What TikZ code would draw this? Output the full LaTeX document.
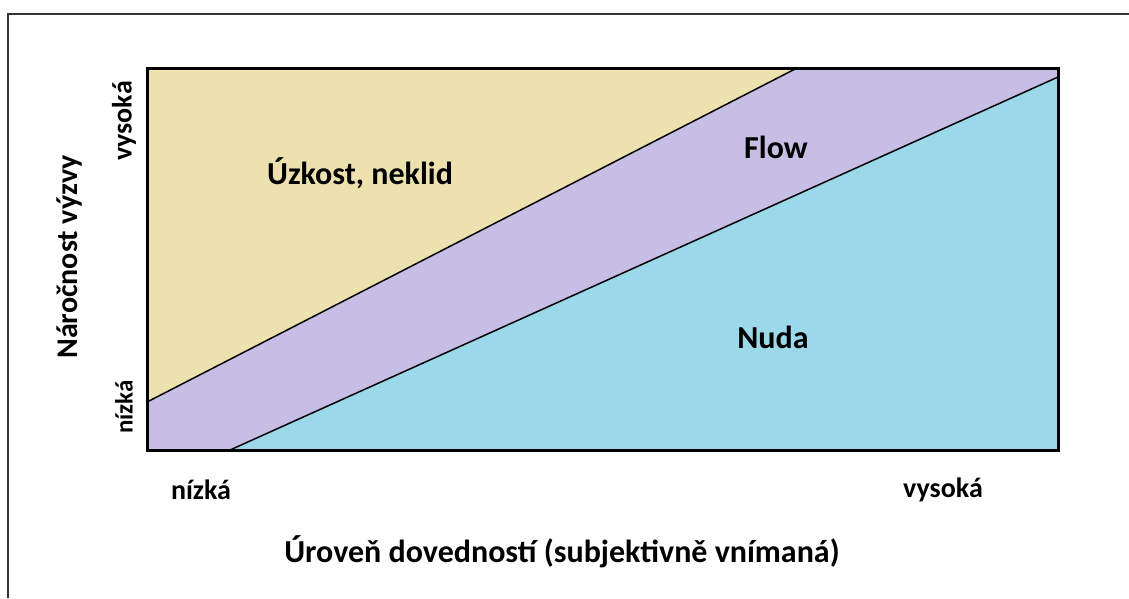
\documentclass[tikz,border=0pt]{standalone}
\usepackage{fontspec}
\setmainfont{Carlito}
\definecolor{zyellow}{HTML}{EDE1AF}
\definecolor{zpurple}{HTML}{C7BEE5}
\definecolor{zblue}{HTML}{9BD8E9}
\definecolor{zframe}{HTML}{333333}
\begin{document}
\begin{tikzpicture}[x=1pt,y=-1pt,
  region/.style={font=\bfseries\fontsize{32}{36}\selectfont, inner sep=0pt},
  ticklbl/.style={font=\bfseries\fontsize{28}{32}\selectfont, inner sep=0pt},
  axistitle/.style={font=\bfseries\fontsize{30}{34}\selectfont, inner sep=0pt},
  divider/.style={line width=1.5pt, black}]
\useasboundingbox (0,0) rectangle (1129,598);
% outer partial frame
\draw[zframe, line width=2pt] (8,598) -- (8,14) -- (1129,14);
% plot regions
\fill[zpurple] (147,68) rectangle (1058,450);
\fill[zyellow] (147,68) -- (797,68) -- (147,402) -- cycle;
\fill[zblue] (230,450) -- (1058,77) -- (1058,450) -- cycle;
\coordinate (a1) at (147,402);
\coordinate (a2) at (797,68);
\coordinate (b1) at (230,450);
\coordinate (b2) at (1058,77);
\draw[divider] (a1) -- (a2);
\draw[divider] (b1) -- (b2);
\draw[line width=3pt, black] (147,68) rectangle (1058,450);
% region labels
\node[region] (anx) at (360,173) {Úzkost, neklid};
\node[region] (flow) at (776,147) {Flow};
\node[region] (nuda) at (773,337) {Nuda};
% tick labels
\node[ticklbl] (xlow) at (201,490) {nízká};
\node[ticklbl] (xhigh) at (943,490) {vysoká};
\node[ticklbl, font=\bfseries\fontsize{25}{28}\selectfont, rotate=90] (ylow) at (124,407) {nízká};
\node[ticklbl, rotate=90] (yhigh) at (124,121) {vysoká};
% axis titles
\node[axistitle, font=\bfseries\fontsize{32}{36}\selectfont] (xtitle) at (562,552) {Úroveň dovedností (subjektivně vnímaná)};
\node[axistitle, rotate=90] (ytitle) at (70,257) {Náročnost výzvy};
\end{tikzpicture}
\end{document}
